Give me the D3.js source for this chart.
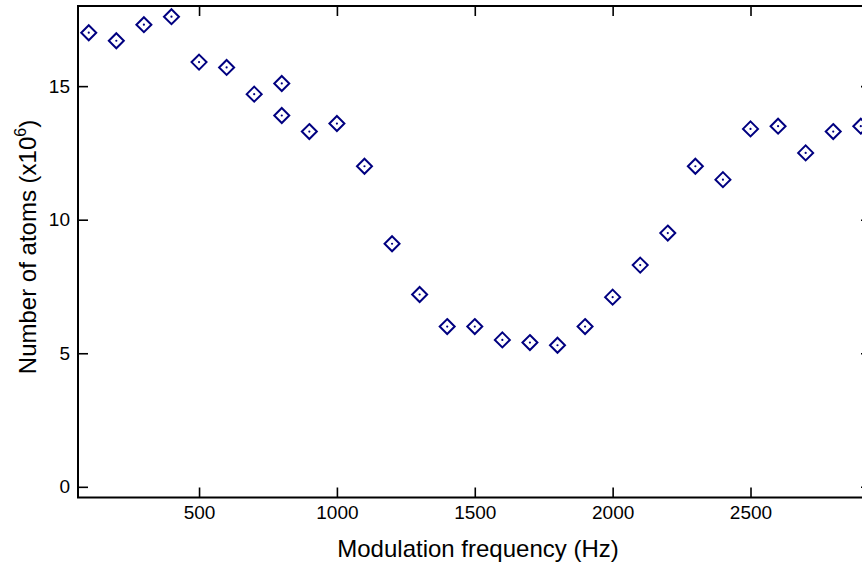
<!DOCTYPE html>
<html>
<head>
<meta charset="utf-8">
<script src="https://cdn.jsdelivr.net/npm/d3@7/dist/d3.min.js"></script>
<style>
  body { margin: 0; background: #fff; }
  svg { display: block; font-family: "Liberation Sans", Arial, sans-serif; }
</style>
</head>
<body>
<svg id="chart" width="862" height="566"></svg>
<script>
// modulation frequency (Hz) and number of atoms (x10^6)
var freq  = [100, 200, 300, 400, 500, 600, 700, 800, 800, 900, 1000, 1100, 1200, 1300, 1400,
             1500, 1600, 1700, 1800, 1900, 2000, 2100, 2200, 2300, 2400, 2500, 2600, 2700, 2800, 2900];
var atoms = [17.0, 16.7, 17.3, 17.6, 15.9, 15.7, 14.7, 15.1, 13.9, 13.3, 13.6, 12.0, 9.1, 7.2, 6.0,
             6.0, 5.5, 5.4, 5.3, 6.0, 7.1, 8.3, 9.5, 12.0, 11.5, 13.4, 13.5, 12.5, 13.3, 13.5];
var xTicks = [500, 1000, 1500, 2000, 2500];
var yTicks = [0, 5, 10, 15];

var svg = d3.select("#chart");
var margin = {left: 78, top: 6, right: 871, bottom: 497.5};

var x = d3.scaleLinear().domain([61, 2937]).range([margin.left, margin.right]);
var y = d3.scaleLinear().domain([-0.4, 18]).range([margin.bottom, margin.top]);

var tickLen = 10;
var fmt = d3.format("d");

function styleAxis(g) {
	g.select(".domain").remove();
	g.selectAll(".tick line").attr("stroke", "#000").attr("stroke-width", 1.6);
	g.selectAll(".tick text").attr("fill", "#000").style("font-size", "19px")
		.style("font-family", "'Liberation Sans', Arial, sans-serif");
}

// bottom axis
svg.append("g")
	.attr("transform", "translate(0," + margin.bottom + ")")
	.call(d3.axisBottom(x).tickValues(xTicks).tickFormat(fmt).tickSizeInner(-tickLen).tickSizeOuter(0).tickPadding(8))
	.call(styleAxis);

// top axis (ticks only)
svg.append("g")
	.attr("transform", "translate(0," + margin.top + ")")
	.call(d3.axisTop(x).tickValues(xTicks).tickSizeInner(-tickLen).tickSizeOuter(0).tickFormat(""))
	.call(styleAxis);

// left axis
svg.append("g")
	.attr("transform", "translate(" + margin.left + ",0)")
	.call(d3.axisLeft(y).tickValues(yTicks).tickFormat(fmt).tickSizeInner(-tickLen).tickSizeOuter(0).tickPadding(8))
	.call(styleAxis);

// right axis (ticks only)
svg.append("g")
	.attr("transform", "translate(" + margin.right + ",0)")
	.call(d3.axisRight(y).tickValues(yTicks).tickSizeInner(-tickLen).tickSizeOuter(0).tickFormat(""))
	.call(styleAxis);

// frame
svg.append("rect")
	.attr("x", margin.left)
	.attr("y", margin.top)
	.attr("width", margin.right - margin.left)
	.attr("height", margin.bottom - margin.top)
	.attr("fill", "none")
	.attr("stroke", "#000")
	.attr("stroke-width", 2);

// markers: open diamonds with a centre dot
var color = "#000080";
var r = 7.5;
var pts = svg.append("g").attr("class", "points")
	.selectAll("g")
	.data(freq.map(function(f, i) { return {f: f, n: atoms[i]}; }))
	.enter().append("g")
	.attr("transform", function(d) { return "translate(" + x(d.f) + "," + y(d.n) + ")"; });

pts.append("path")
	.attr("d", "M0," + (-r) + "L" + r + ",0L0," + r + "L" + (-r) + ",0Z")
	.attr("fill", "none")
	.attr("stroke", color)
	.attr("stroke-width", 2);

pts.append("circle")
	.attr("r", 1.1)
	.attr("fill", color);

// axis titles
svg.append("text")
	.attr("x", 478)
	.attr("y", 556.5)
	.attr("text-anchor", "middle")
	.style("font-size", "24px")
	.text("Modulation frequency (Hz)");

var yt = svg.append("text")
	.attr("transform", "translate(35.5,247) rotate(-90)")
	.attr("text-anchor", "middle")
	.style("font-size", "24px");
yt.append("tspan").text("Number of atoms (x10");
yt.append("tspan").attr("dy", -10).style("font-size", "16px").text("6");
yt.append("tspan").attr("dy", 10).text(")");
</script>
</body>
</html>
